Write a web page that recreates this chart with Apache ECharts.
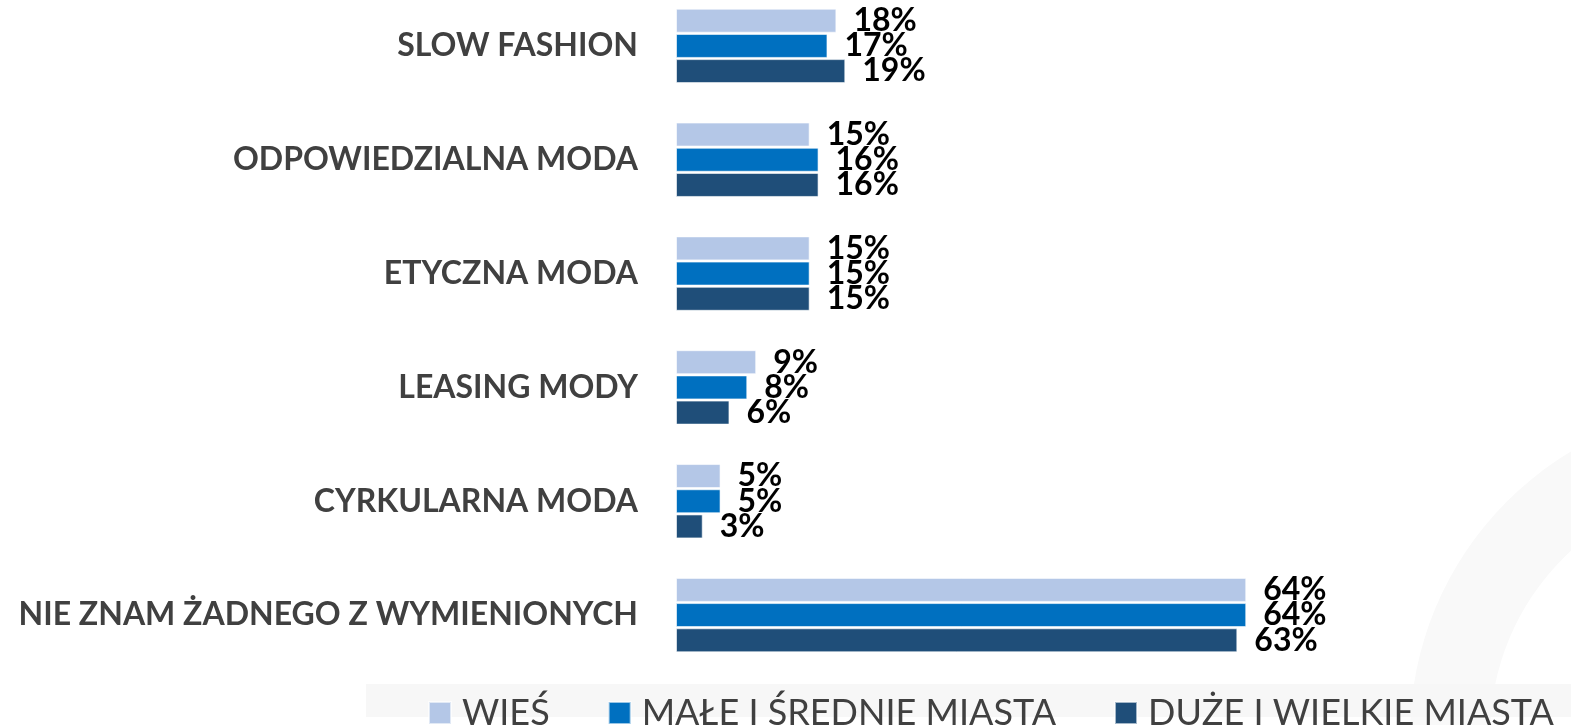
<!DOCTYPE html>
<html>
<head>
<meta charset="utf-8">
<script src="https://cdn.jsdelivr.net/npm/echarts@6/dist/echarts.min.js"></script>
<style>
    html, body { margin: 0; padding: 0; background: #fff; overflow: hidden; }
    /* chart is shifted up a little so the first bar group sits close to the top edge */
    #chart { position: absolute; left: 0; top: -11px; width: 1571px; height: 736px; }
</style>
</head>
<body>
<div id="chart"></div>
<script>
var categories = ['SLOW FASHION', 'ODPOWIEDZIALNA MODA', 'ETYCZNA MODA', 'LEASING MODY', 'CYRKULARNA MODA', 'NIE ZNAM ŻADNEGO Z WYMIENIONYCH'];
var seriesNames = ['WIEŚ', 'MAŁE I ŚREDNIE MIASTA', 'DUŻE I WIELKIE MIASTA'];
var wies = [18, 15, 15, 9, 5, 64];
var maleMiasta = [17, 16, 15, 8, 5, 64];
var duzeMiasta = [19, 16, 15, 6, 3, 63];
var colors = ['#b4c7e7', '#0070c0', '#1f4e79'];

var myChart = echarts.init(document.getElementById('chart'));

function makeSeries(name, data, color) {
    return {
        name: name,
        type: 'bar',
        data: data,
        barWidth: 24,
        barGap: '5%',
        itemStyle: {
            color: color,
            borderColor: 'rgba(255,255,255,0.6)',
            borderWidth: 1
        },
        label: {
            show: true,
            position: 'right',
            distance: 17,
            color: '#000',
            fontFamily: 'Lato',
            fontWeight: 'bold',
            fontSize: 32,
            formatter: '{c}%'
        },
        z: 3
    };
}

var option = {
    animation: false,
    color: colors,
    grid: {
        left: 676,
        right: 4,
        top: 0,
        bottom: 53
    },
    xAxis: {
        type: 'value',
        min: 0,
        max: 100,
        show: false
    },
    yAxis: {
        type: 'category',
        inverse: true,
        data: categories,
        axisLine: { show: false },
        axisTick: { show: false },
        axisLabel: {
            margin: 38,
            color: '#404040',
            fontFamily: 'Lato',
            fontWeight: 'bold',
            fontSize: 32
        }
    },
    legend: {
        left: 423,
        top: 701,
        itemWidth: 22,
        itemHeight: 22,
        itemGap: 58,
        icon: 'rect',
        textStyle: {
            color: '#404040',
            fontFamily: 'Lato',
            fontSize: 36,
            lineHeight: 36,
            padding: [0, 0, 0, 6]
        },
        data: seriesNames
    },
    graphic: [
        {
            type: 'ring',
            z: -10,
            shape: { cx: 1740, cy: 746, r: 330, r0: 250 },
            style: { fill: '#f9f9f9' }
        },
        {
            type: 'rect',
            z: -5,
            shape: { x: 366, y: 695, width: 1205, height: 33 },
            style: { fill: '#f7f7f7' }
        }
    ],
    series: [
        makeSeries(seriesNames[0], wies, colors[0]),
        makeSeries(seriesNames[1], maleMiasta, colors[1]),
        makeSeries(seriesNames[2], duzeMiasta, colors[2])
    ]
};

myChart.setOption(option);

window.addEventListener('resize', function () {
    myChart.resize();
});
</script>
</body>
</html>
